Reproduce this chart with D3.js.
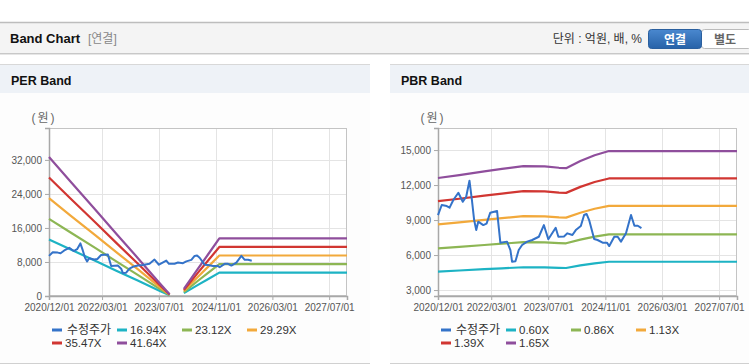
<!DOCTYPE html>
<html>
<head>
<meta charset="utf-8">
<script src="https://cdn.jsdelivr.net/npm/d3@7"></script>
<style>
  body { margin: 0; background: #fff; }
  svg { display: block; font-family: "Liberation Sans", Arial, "Noto Sans CJK KR", sans-serif; }
</style>
</head>
<body>
<svg id="chart" width="749" height="364"></svg>
<script>
// adjusted share price (수정주가), shared by both charts
const priceDates = ["2020-12-01","2021-01-02","2021-02-14","2021-03-10","2021-04-11","2021-05-24","2021-07-01","2021-07-30","2021-08-27","2021-09-17","2021-10-06","2021-10-24","2021-11-10","2021-12-23","2022-01-20","2022-02-21","2022-04-20","2022-05-18","2022-07-14","2022-08-12","2022-08-26","2022-09-24","2022-10-22","2022-11-20","2023-01-02","2023-02-14","2023-04-12","2023-05-25","2023-07-02","2023-09-03","2023-09-26","2023-11-13","2023-12-12","2024-01-24","2024-02-22","2024-04-05","2024-05-03","2024-05-24","2024-06-15","2024-07-28","2024-08-26","2024-10-08","2024-11-14","2024-12-04","2025-01-16","2025-02-14","2025-03-14","2025-04-26","2025-06-08","2025-07-07","2025-08-05","2025-09-05"];
const priceValues = [9430,10290,10200,10060,10715,11340,10570,11000,12370,10715,9000,8140,8860,8570,8700,9630,9770,7060,7150,6430,5430,5470,6430,6860,7150,7290,7570,8570,7350,8340,7570,7600,7860,7720,8140,8490,9430,9520,9000,7370,7290,7060,7060,6770,7570,7570,7150,7860,9430,8510,8510,8310];

// EPS behind the PER bands (null = no band drawn)
const epsDates = ["2020-12-01","2021-06-01","2022-01-01","2022-07-01","2023-01-01","2023-07-01","2023-10-01","2023-12-01","2024-02-01","2024-06-01","2024-09-01","2024-12-01","2027-12-01"];
const epsValues = [785,648,489,352,215,78,10,null,40,155,240,325,325];
const perMultiples = [16.94, 23.12, 29.29, 35.47, 41.64];

// BPS behind the PBR bands
const bpsDates = ["2020-12-01","2021-06-01","2022-01-01","2022-06-01","2022-12-01","2023-06-01","2023-10-01","2023-12-01","2024-04-01","2024-08-01","2024-12-01","2027-12-01"];
const bpsValues = [7640,7790,7980,8110,8260,8240,8170,8150,8520,8820,9040,9040];
const pbrMultiples = [0.60, 0.86, 1.13, 1.39, 1.65];

const xTicks = ["2020-12-01","2022-03-01","2023-07-01","2024-11-01","2026-03-01","2027-07-01"];
const xRange = ["2020-12-01","2027-12-01"];
const perYTicks = [0, 8000, 16000, 24000, 32000];
const pbrYTicks = [3000, 6000, 9000, 12000, 15000];

const seriesColors = ["#3473c9", "#1db3c4", "#8db654", "#f2a93b", "#d13632", "#8f4e9c"];

const parse = d3.timeParse("%Y-%m-%d");
const svg = d3.select("#chart");

// ---- top header ----
svg.append("rect").attr("x", 0).attr("y", 22).attr("width", 749).attr("height", 31).attr("fill", "#f4f4f4");
svg.append("line").attr("x1", 0).attr("x2", 749).attr("y1", 22.5).attr("y2", 22.5).attr("stroke", "#bdbdbd").attr("stroke-width", 1.5);
svg.append("line").attr("x1", 0).attr("x2", 749).attr("y1", 53.5).attr("y2", 53.5).attr("stroke", "#c8c8c8");
svg.append("line").attr("x1", 0).attr("x2", 749).attr("y1", 54.5).attr("y2", 54.5).attr("stroke", "#e6e6e6");
svg.append("text").attr("x", 10).attr("y", 43).attr("font-size", 13).attr("font-weight", "bold").attr("fill", "#111").text("Band Chart");
svg.append("text").attr("x", 88).attr("y", 43).attr("font-size", 12).attr("fill", "#888").text("[연결]");
svg.append("text").attr("x", 642).attr("y", 43).attr("text-anchor", "end").attr("font-size", 12).attr("fill", "#333").text("단위 : 억원, 배, %");

const grad = svg.append("defs").append("linearGradient").attr("id", "btn").attr("x1", 0).attr("x2", 0).attr("y1", 0).attr("y2", 1);
grad.append("stop").attr("offset", "0%").attr("stop-color", "#4a88cf");
grad.append("stop").attr("offset", "100%").attr("stop-color", "#2762a8");
svg.append("rect").attr("x", 701.5).attr("y", 29.5).attr("width", 50).attr("height", 19).attr("rx", 3).attr("fill", "#fff").attr("stroke", "#bbb");
svg.append("rect").attr("x", 648.5).attr("y", 29.5).attr("width", 53).attr("height", 19).attr("rx", 3).attr("fill", "url(#btn)").attr("stroke", "#2a5f9e");
svg.append("text").attr("x", 675).attr("y", 43.5).attr("text-anchor", "middle").attr("font-size", 12).attr("font-weight", "bold").attr("fill", "#fff").text("연결");
svg.append("text").attr("x", 725).attr("y", 43.5).attr("text-anchor", "middle").attr("font-size", 12).attr("font-weight", "bold").attr("fill", "#666").text("별도");

const xScaleFor = (l, r) => d3.scaleTime().domain(xRange.map(parse)).range([l, r]);

function bandChart(cfg) {
  const g = svg.append("g");
  // panel
  g.append("rect").attr("x", cfg.px).attr("y", 64).attr("width", cfg.pw).attr("height", 299).attr("fill", "#fdfdfd");
  g.append("rect").attr("x", cfg.px).attr("y", 65).attr("width", cfg.pw).attr("height", 28).attr("fill", "#eef2f7");
  g.append("line").attr("x1", cfg.px).attr("x2", cfg.px + cfg.pw).attr("y1", 64.5).attr("y2", 64.5).attr("stroke", "#d8d8d8");
  g.append("line").attr("x1", cfg.px).attr("x2", cfg.px + cfg.pw).attr("y1", 363.5).attr("y2", 363.5).attr("stroke", "#d0d0d0");
  g.append("text").attr("x", cfg.px + 11).attr("y", 84.5).attr("font-size", 12.5).attr("font-weight", "bold").attr("fill", "#111").text(cfg.title);
  g.append("text").attr("x", cfg.left - 5).attr("y", 122).attr("text-anchor", "middle").attr("font-size", 12)
    .attr("letter-spacing", 2).attr("fill", "#666").text("(원)");

  const x = xScaleFor(cfg.left, cfg.right);
  const y = d3.scaleLinear().domain(cfg.yDomain).range([296, 128]);

  g.append("rect").attr("x", cfg.left).attr("y", 128).attr("width", cfg.right - cfg.left).attr("height", 168).attr("fill", "#fff");

  // grid
  g.append("g").selectAll("line").data(xTicks.map(parse)).enter().append("line")
    .attr("x1", d => Math.round(x(d)) + 0.5).attr("x2", d => Math.round(x(d)) + 0.5)
    .attr("y1", 128).attr("y2", 296).attr("stroke", "#e4e4e4");
  g.append("g").selectAll("line").data(cfg.yTicks).enter().append("line")
    .attr("x1", cfg.left).attr("x2", cfg.right)
    .attr("y1", d => Math.round(y(d)) + 0.5).attr("y2", d => Math.round(y(d)) + 0.5).attr("stroke", "#e4e4e4");
  g.append("rect").attr("x", cfg.left + 0.5).attr("y", 128.5).attr("width", cfg.right - cfg.left - 1).attr("height", 167)
    .attr("fill", "none").attr("stroke", "#c4c4c4");

  // axes
  const ax = g.append("g").attr("transform", "translate(0,296)")
    .call(d3.axisBottom(x).tickValues(xTicks.map(parse)).tickFormat(d3.timeFormat("%Y/%m/%d")).tickSize(4).tickPadding(4));
  const ay = g.append("g").attr("transform", `translate(${cfg.left},0)`)
    .call(d3.axisLeft(y).tickValues(cfg.yTicks).tickFormat(d3.format(",")).tickSize(4).tickPadding(3));
  [ax, ay].forEach(a => {
    a.select(".domain").attr("stroke", "#a8a8a8").attr("stroke-width", 1.5);
    a.selectAll(".tick line").attr("stroke", "#a8a8a8");
    a.selectAll(".tick text").attr("font-size", 10).attr("fill", "#555").attr("font-family", "Liberation Sans, Arial, sans-serif");
  });

  // bands
  const bandLine = d3.line().defined(d => d.v != null).x(d => x(d.date)).y(d => y(d.v));
  const baseData = cfg.baseDates.map((d, i) => ({ date: parse(d), b: cfg.baseValues[i] }));
  cfg.multiples.forEach((m, i) => {
    const pts = baseData.map(p => ({ date: p.date, v: p.b == null ? null : p.b * m }));
    g.append("path").datum(pts).attr("d", bandLine)
      .attr("fill", "none").attr("stroke", seriesColors[i + 1]).attr("stroke-width", 2.2).attr("stroke-linejoin", "round");
  });

  // price
  const pricePts = priceDates.map((d, i) => ({ date: parse(d), v: priceValues[i] }));
  g.append("path").datum(pricePts).attr("d", bandLine)
    .attr("fill", "none").attr("stroke", seriesColors[0]).attr("stroke-width", 2).attr("stroke-linejoin", "round");

  // legend
  const names = ["수정주가"].concat(cfg.multiples.map(m => m.toFixed(2) + "X"));
  const lg = g.append("g").selectAll("g").data(names).enter().append("g")
    .attr("transform", (d, i) => `translate(${cfg.left + 3 + (i % 4) * 65},${i < 4 ? 330 : 343})`);
  lg.append("line").attr("x1", 0).attr("x2", 10).attr("y1", 0).attr("y2", 0)
    .attr("stroke", (d, i) => seriesColors[i]).attr("stroke-width", 3);
  lg.append("text").attr("x", (d, i) => i === 0 ? 15 : 13).attr("y", 4).attr("font-size", (d, i) => i === 0 ? 12 : 11.5)
    .attr("fill", "#333").text(d => d);
}

bandChart({
  title: "PER Band", px: 0, pw: 370, left: 49, right: 347,
  yDomain: [0, 39500], yTicks: perYTicks,
  baseDates: epsDates, baseValues: epsValues, multiples: perMultiples
});

bandChart({
  title: "PBR Band", px: 390, pw: 359, left: 438, right: 737,
  yDomain: [2490, 16890], yTicks: pbrYTicks,
  baseDates: bpsDates, baseValues: bpsValues, multiples: pbrMultiples
});
</script>
</body>
</html>
